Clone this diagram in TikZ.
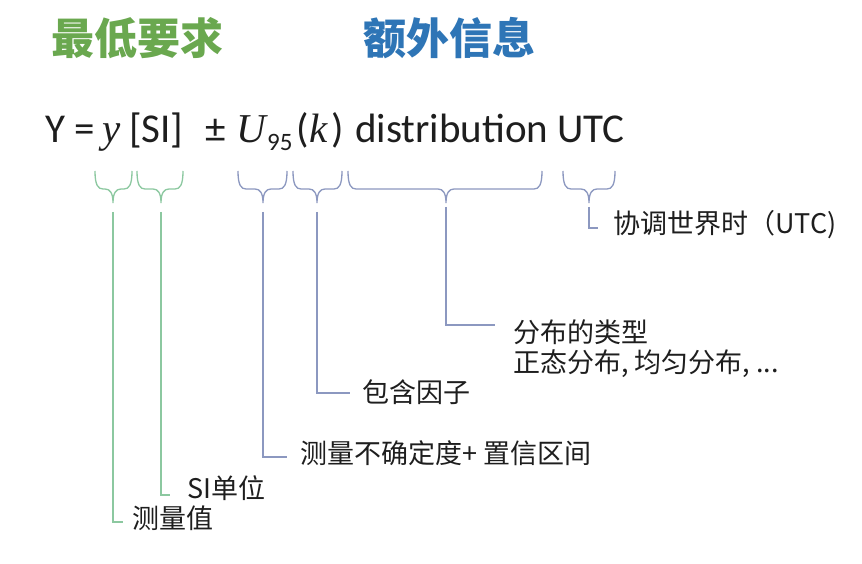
\documentclass[tikz,border=0pt]{standalone}
\usepackage{fontspec}
\setmainfont{Carlito}
\newfontfamily\cjk{Noto Sans CJK SC}
\newfontfamily\serifit{Liberation Serif}
\definecolor{gtitle}{RGB}{106,168,79}
\definecolor{btitle}{RGB}{46,117,182}
\definecolor{gcol}{RGB}{140,200,160}
\definecolor{bcol}{RGB}{140,152,192}
\definecolor{txt}{RGB}{30,30,30}
\tikzset{
  fx/.style={inner sep=0pt, anchor=base west, font=\fontsize{41}{48}\selectfont, text=txt},
  fxi/.style={fx, font=\serifit\itshape\fontsize{41}{48}\selectfont},
  lab/.style={inner sep=0pt, anchor=west, font=\cjk\fontsize{27}{34}\selectfont, text=txt},
  ttl/.style={inner sep=0pt, anchor=west, font=\cjk\bfseries\fontsize{43}{50}\selectfont},
  gline/.style={draw=gcol, line width=1.3pt},
  bline/.style={draw=bcol, line width=1.3pt},
}
\newcommand\mybrace[5]{%
  \draw[#4] (#1,171) .. controls (#1,185) and (#1+3,189) .. (#1+8,189) -- (#2-8,189)
    .. controls (#2-3,189) and (#2,193) .. (#2,203)
    .. controls (#2,193) and (#2+3,189) .. (#2+8,189) -- (#3-8,189)
    .. controls (#3-3,189) and (#3,185) .. (#3,171);
  \coordinate (#5) at (#2,203);}
\begin{document}
\begin{tikzpicture}[x=1pt,y=-1pt]
\fill[white] (0,0) rectangle (862,564);
\useasboundingbox (0,0) rectangle (862,564);
% titles
\node[ttl, text=gtitle] (t1) at (51,38) {最低要求};
\node[ttl, text=btitle] (t2) at (363,38) {额外信息};
% formula
\node[fx] (fY) at (45,143) {Y =};
\node[fxi] (fy) at (102,143) {y};
\node[fx] (fsi) at (129,143) {[SI]};
\node[fx] (fpm) at (205,143) {±};
\node[fxi] (fU) at (236,143) {U};
\node[fx, font=\fontsize{25}{30}\selectfont] (f95) at (267,151) {95};
\node[fx] (fl) at (296,143) {(};
\node[fxi] (fk) at (309,143) {k};
\node[fx] (fr) at (331,143) {)};
\node[fx] (fd) at (355,143) {distribution UTC};
% braces
\mybrace{95}{113}{132}{gline}{p1}
\mybrace{137}{161}{183}{gline}{p2}
\mybrace{238}{263}{287}{bline}{p3}
\mybrace{293}{317}{342}{bline}{p4}
\mybrace{348}{446}{542}{bline}{p5}
\mybrace{563}{589}{615}{bline}{p6}
% labels
\node[lab] (l1) at (132,518) {测量值};
\node[lab] (l2) at (187,488) {SI单位};
\node[lab] (l3) at (300,453) {测量不确定度+ 置信区间};
\node[lab] (l4) at (362,392) {包含因子};
\node[lab] (l5) at (513,332) {分布的类型};
\node[lab] (l5b) at (513,364) {正态分布, 均匀分布, ...};
\node[lab] (l6) at (613,225) {协调世界时（UTC)};
% connectors
\draw[gline, shorten <=9pt] (p1) |- ([xshift=-9pt,yshift=-4pt]l1.west);
\draw[gline, shorten <=9pt] (p2) |- ([xshift=-17pt,yshift=-7pt]l2.west);
\draw[bline, shorten <=9pt] (p3) |- ([xshift=-13pt,yshift=-4pt]l3.west);
\draw[bline, shorten <=9pt] (p4) |- ([xshift=-12pt,yshift=-1pt]l4.west);
\draw[bline, shorten <=4pt] (p5) |- ([xshift=-18pt,yshift=7pt]l5.west);
\draw[bline, shorten <=4pt] (p6) |- ([xshift=-15pt,yshift=-3pt]l6.west);
\end{tikzpicture}
\end{document}
